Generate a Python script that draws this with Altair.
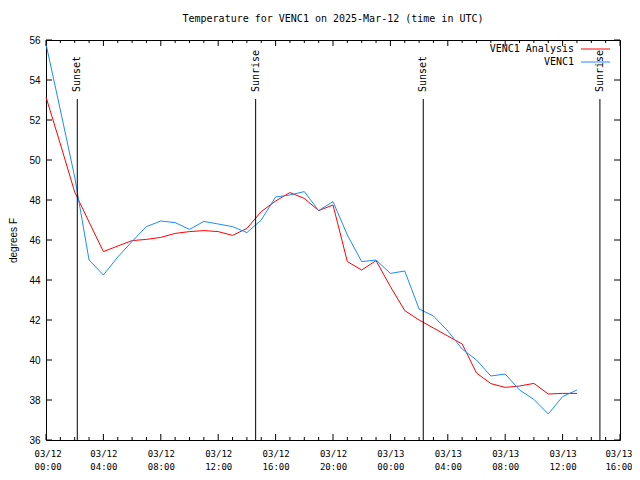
import altair as alt
import pandas as pd

# ---- data ----
hours = list(range(0, 38))  # hours since 2025-03-12 00:00 UTC

venc1_analysis = [53.15, 50.8, 48.4, 46.9, 45.42, 45.7, 45.97, 46.03, 46.13, 46.33,
                  46.42, 46.47, 46.42, 46.23, 46.58, 47.42, 47.95, 48.37, 48.08, 47.47,
                  47.75, 44.92, 44.5, 44.97, 43.67, 42.47, 42.0, 41.6, 41.2, 40.8,
                  39.35, 38.82, 38.63, 38.7, 38.83, 38.3, 38.33, 38.33]

venc1 = [55.8, 52.5, 49.15, 45.0, 44.25, 45.15, 45.93, 46.67, 46.95, 46.87,
         46.53, 46.93, 46.8, 46.67, 46.37, 47.0, 48.15, 48.25, 48.42, 47.47,
         47.92, 46.25, 44.92, 45.0, 44.33, 44.45, 42.55, 42.2, 41.45, 40.55,
         40.0, 39.2, 39.3, 38.5, 38.03, 37.3, 38.17, 38.5]

series_names = ["VENC1 Analysis", "VENC1"]
series_colors = ["#ff0000", "#1a8cff"]

event_names = ["Sunset", "Sunrise", "Sunset", "Sunrise"]
event_hours = [2.18, 14.61, 26.29, 38.6]

tick_dates = ["03/12"] * 6 + ["03/13"] * 5
tick_times = ["00:00", "04:00", "08:00", "12:00", "16:00", "20:00",
              "00:00", "04:00", "08:00", "12:00", "16:00"]
x_major = list(range(0, 41, 4))
x_minor = [h for h in range(0, 41) if h % 4 != 0]
y_ticks = list(range(36, 57, 2))

MONO = "DejaVu Sans Mono"
SANS = "Liberation Sans"
W, H = 574, 400

xs = alt.Scale(domain=[0, 40], nice=False, zero=False)
ys = alt.Scale(domain=[36, 56], nice=False, zero=False)

label_expr = "[" + ",".join(f"['{d}','{t}']" for d, t in zip(tick_dates, tick_times)) + "][round(datum.value/4)]"

x_axis = alt.Axis(values=x_major, labelExpr=label_expr, tickSize=0, domain=False, grid=False,
                  labelFont=MONO, labelFontSize=9, labelColor="black", labelPadding=9,
                  labelLineHeight=13, labelBaseline="top", labelFlush=True,
                  labelFlushOffset=12, labelOverlap=False, labelBound=False, title=None)
y_axis = alt.Axis(values=y_ticks, tickSize=0, domain=False, grid=False,
                  labelFont=SANS, labelFontSize=10, labelColor="black", labelPadding=6,
                  title="degrees F", titleFont=SANS, titleFontSize=10, titleFontWeight="normal",
                  titleColor="black", titleAngle=270, titleX=-33, titleY=200,
                  titleAlign="center", titleBaseline="middle")

X = alt.X("h:Q", scale=xs, axis=x_axis)
Y = alt.Y("v:Q", scale=ys, axis=y_axis)

df_a = pd.DataFrame({"h": hours, "v": venc1_analysis})
df_o = pd.DataFrame({"h": hours, "v": venc1})

line_a = alt.Chart(df_a).mark_line(color=series_colors[0], strokeWidth=1).encode(x=X, y=Y)
line_o = alt.Chart(df_o).mark_line(color=series_colors[1], strokeWidth=1).encode(x=X, y=Y)

df_ev = pd.DataFrame({"h": event_hours, "name": event_names})
ev_rules = alt.Chart(df_ev).mark_rule(color="black", strokeWidth=1).encode(
    x=X, y=alt.value(59), y2=alt.value(H),
)
ev_text = alt.Chart(df_ev).mark_text(angle=270, align="left", baseline="middle",
                                     font=MONO, fontSize=10, color="black", dx=7).encode(
    x=X, y=alt.value(59), text="name:N",
)

# frame ticks (inward, mirrored)
df_xM = pd.DataFrame({"h": x_major})
df_xm = pd.DataFrame({"h": x_minor})
df_y = pd.DataFrame({"v": y_ticks})

def xt(df, y1, y2):
    return alt.Chart(df).mark_rule(color="black", strokeWidth=1).encode(
        x=X, y=alt.value(y1), y2=alt.value(y2))

def yt(x1, x2):
    return alt.Chart(df_y).mark_rule(color="black", strokeWidth=1).encode(
        y=Y, x=alt.value(x1), x2=alt.value(x2))

ticks = [xt(df_xM, H, H - 6), xt(df_xm, H, H - 3), xt(df_xM, 0, 6), xt(df_xm, 0, 3),
         yt(0, 6), yt(W, W - 6)]

# legend (top right, inside)
legend_layers = []
for i, (nm, col) in enumerate(zip(series_names, series_colors)):
    yy = 9 + 13 * i
    d = pd.DataFrame({"name": [nm]})
    legend_layers.append(alt.Chart(d).mark_text(align="right", baseline="middle", font=MONO,
                                                fontSize=10, color="black").encode(
        x=alt.value(528), y=alt.value(yy), text="name:N"))
    legend_layers.append(alt.Chart(d).mark_rule(color=col, strokeWidth=1).encode(
        x=alt.value(535), x2=alt.value(564), y=alt.value(yy)))

chart = alt.layer(line_a, line_o, ev_rules, ev_text, *ticks, *legend_layers).properties(
    width=W, height=H,
    title=alt.TitleParams("Temperature for VENC1 on 2025-Mar-12 (time in UTC)", font=MONO,
                          fontSize=10, fontWeight="normal", color="black", offset=11,
                          anchor="middle"),
    autosize=alt.AutoSizeParams(type="none"),
    padding={"left": 38, "top": 32, "right": 12, "bottom": 32},
    background="white",
).configure_view(stroke="black", strokeWidth=1)

chart.save("out.html", embed_options={"renderer": "svg", "actions": False})
